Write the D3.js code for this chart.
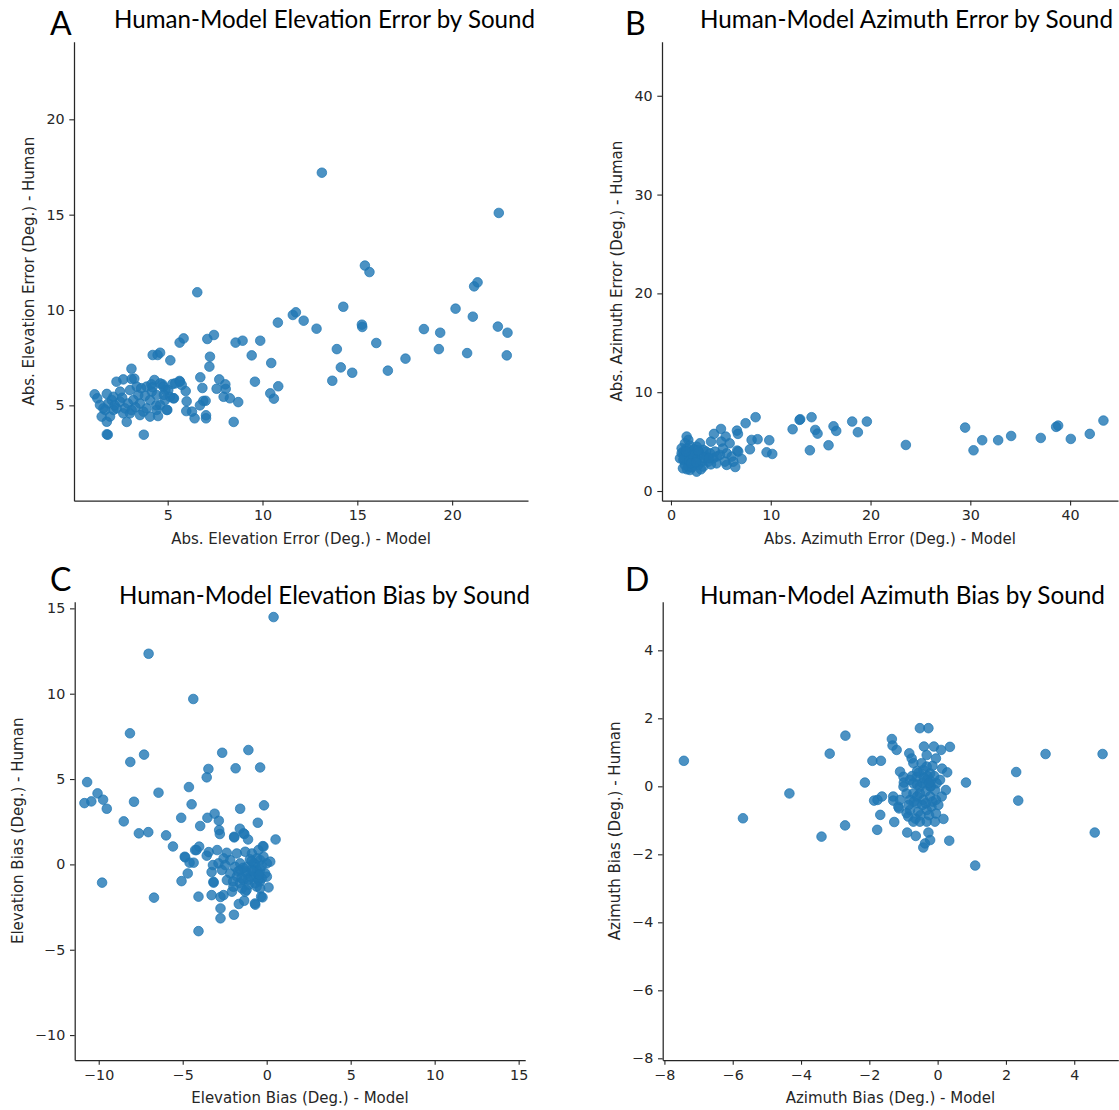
<!DOCTYPE html>
<html>
<head>
<meta charset="utf-8">
<script src="https://cdn.jsdelivr.net/npm/d3@7"></script>
<style>
  body { margin: 0; background: #fff; }
</style>
</head>
<body>
<div id="chart"></div>
<script>
// one point per sound: model value on x, human value on y
var elevErrModel = [13.13,22.46,15.4,15.64,21.16,21.34,6.56,14.26,20.18,11.6,
  11.76,21.09,10.81,12.17,12.85,15.24,15.26,18.51,19.37,22.41,
  22.92,9.88,8.58,8.95,7.09,7.44,5.63,5.84,16.0,13.92,
  19.3,20.79,22.88,17.54,9.43,4.21,4.47,4.6,7.23,5.14,
  7.2,10.46,14.13,14.73,16.61,13.68,9.6,10.83,10.41,10.6,
  3.09,6.72,7.72,8.04,7.58,8.06,6.83,7.95,8.28,8.72,
  6.88,7.0,6.7,7.02,7.02,6.42,8.48,6.28,5.98,6.0,
  5.95,5.33,4.98,4.49,3.74,1.84,1.79,2.84,1.15,1.29,
  2.3,2.49,2.66,3.24,3.1,4.3,4.14,5.62,5.74,5.25,
  5.4,4.72,4.88,1.79,1.87,1.61,1.52,1.79,1.96,2.14,
  2.05,2.49,2.75,3.01,3.19,3.45,3.54,3.72,3.89,4.07,
  4.6,4.77,5.03,5.12,4.86,4.6,4.42,4.95,5.3,5.65,
  3.01,3.37,3.89,4.16,4.42,2.31,2.66,3.54,4.07,2.14,
  1.43,1.7,2.6,3.3,3.8,4.4,2.9,3.6,4.2,2.2,
  4.8,3.1];
var elevErrHuman = [17.2,15.09,12.33,11.99,11.24,11.45,10.93,10.17,10.07,9.74,
  9.88,9.65,9.34,9.44,9.02,9.23,9.11,9.0,8.81,9.13,
  8.81,8.39,8.29,8.39,8.48,8.69,8.29,8.51,8.27,7.95,
  7.95,7.74,7.62,7.45,7.62,7.64,7.64,7.76,7.55,7.36,
  7.03,7.22,6.99,6.71,6.82,6.29,6.24,6.0,5.63,5.35,
  6.92,6.47,6.36,6.1,5.87,5.86,5.91,5.45,5.37,5.17,
  5.23,5.24,5.0,4.48,4.32,4.32,4.13,4.67,4.7,5.21,
  5.75,5.37,4.76,4.44,3.46,3.46,3.48,4.13,5.58,5.37,
  6.24,5.72,6.36,6.4,6.38,6.33,6.1,6.28,6.07,6.12,
  6.15,6.1,5.8,5.6,5.1,4.84,4.41,4.14,4.41,4.76,
  5.28,5.19,4.84,4.58,5.28,5.54,5.1,4.67,4.84,5.28,
  6.15,5.98,5.8,5.45,5.28,5.02,4.76,4.76,5.37,6.24,
  5.8,5.98,5.98,5.72,5.54,4.84,4.58,4.49,4.41,5.45,
  5.02,4.76,5.4,4.9,5.5,5.0,5.1,5.9,5.95,5.0,
  5.55,4.75];

var azimErrModel = [8.48,7.48,6.61,6.71,8.08,8.68,9.85,9.58,10.15,7.91,
  7.08,6.44,6.64,5.01,4.31,5.48,4.01,5.04,5.88,12.19,
  12.89,12.95,14.09,14.46,14.69,13.92,15.79,16.29,16.56,18.16,
  18.73,19.63,23.54,29.48,30.32,31.19,32.79,34.09,37.06,38.6,
  38.8,40.07,41.97,43.34,1.57,1.74,1.40,1.57,1.07,1.24,
  1.40,1.90,2.57,2.74,2.24,2.07,2.57,2.90,3.24,3.57,
  3.91,4.24,4.57,4.91,5.58,6.08,6.74,6.24,5.41,3.07,
  1.90,2.40,0.90,1.24,1.74,2.24,3.24,1.07,2.90,3.74,
  4.41,5.58,1.6,2.1,3.0,1.3,2.6,3.5,1.9,2.3,
  4.0,5.2,1.3,1.8,2.2,2.8,3.3,1.5,2.0,2.5,
  3.8,4.6,1.2,2.7];
var azimErrHuman = [7.47,6.86,6.11,5.78,5.17,5.24,5.14,3.92,3.75,4.22,
  3.24,2.43,4.09,6.28,5.78,5.51,5.0,5.0,4.83,6.25,
  7.2,7.26,7.47,6.18,5.81,4.12,4.63,6.55,6.08,7.03,
  5.95,7.03,4.66,6.42,4.12,5.14,5.14,5.57,5.37,6.49,
  6.62,5.27,5.78,7.13,5.51,5.17,4.83,4.32,3.82,3.14,
  2.64,2.13,1.96,2.64,3.31,3.99,4.49,4.83,4.16,3.48,
  3.82,3.31,2.80,3.65,3.82,3.48,3.99,2.97,2.97,2.97,
  3.48,3.82,3.31,3.99,2.47,2.64,2.47,4.32,3.65,2.97,
  3.99,2.64,2.2,2.4,2.2,3.6,3.2,4.0,4.6,4.2,
  2.7,4.3,3.3,3.0,3.6,3.9,3.4,4.0,2.8,2.9,
  3.3,3.5,2.3,4.1];

var elevBiasModel = [0.41,-7.03,-4.37,-8.14,-8.12,-7.30,-2.65,-1.09,-1.85,-0.39,
  -3.47,-3.57,-4.63,-10.69,-10.07,-10.85,-10.44,-9.74,-9.52,-7.9,
  -6.44,-4.47,-1.58,-0.16,-0.53,-8.51,-5.09,-3.53,-3.10,-2.85,
  -3.96,-2.83,-2.79,-7.61,-7.05,-5.99,-5.58,-1.6,-1.33,-1.93,
  -1.11,0.53,-0.23,-4.02,-4.18,-3.45,-2.95,-2.38,-4.88,-4.59,
  -4.35,-3.57,-4.70,-5.07,-9.8,-6.71,-4.06,-3.28,-2.75,-2.75,
  -2.75,-1.95,-4.06,-3.28,-3.16,-3.2,-0.68,-1.66,-1.34,-0.33,
  0.11,-2.57,-2.07,-1.58,-1.18,-0.78,-0.39,-0.19,0.01,-0.59,
  -0.98,-1.38,-1.78,-2.17,-2.37,-1.98,-1.48,-1.08,-0.69,-0.29,
  -0.09,-0.88,-1.28,-1.78,-2.17,-2.57,-2.87,-2.67,-3.17,-0.49,
  -0.19,0.21,-1.38,-1.94,-4.26,-4.85,-1.18,-1.58,-0.39,-0.78,
  -1.88,-1.28,-0.39,0.01,-2.47,-0.59,-0.25,-0.7,-0.9,-0.5,
  -1.3,-0.7,-1.0,-0.4,-1.6,-1.1,-0.8,-0.5,-1.4,-1.7,
  -0.6,-1.2,-0.3,-0.9,-1.5,-0.45,-2.0];
var elevBiasHuman = [14.49,12.34,9.69,7.68,6.0,6.43,6.54,6.70,5.63,5.68,
  5.59,5.10,4.53,4.82,4.16,3.59,3.69,3.79,3.26,3.67,
  4.2,3.52,3.26,3.46,2.44,2.52,2.73,2.73,2.97,2.56,
  2.25,2.01,1.78,1.82,1.89,1.70,1.05,2.09,1.78,1.58,
  1.46,1.46,1.07,1.04,0.84,0.72,0.84,0.68,0.45,0.1,
  0.1,0.51,-0.53,-0.98,-1.07,-1.95,-1.89,-1.80,-1.91,-2.58,
  -3.16,-2.95,-3.91,-0.45,-1.07,-0.04,-2.36,-2.32,-2.13,-1.89,
  -1.35,-1.8,-1.6,-0.33,-0.14,0.06,0.25,0.45,0.06,-0.33,
  -0.72,-0.92,-0.72,-0.53,-0.92,-1.31,-1.41,-1.21,-1.11,-0.82,
  -0.53,0.64,0.74,0.64,0.25,0.35,0.06,-0.33,-1.02,0.84,
  1.04,0.16,1.82,1.62,0.84,0.41,-0.53,0.06,-0.33,-0.72,
  -0.14,-1.6,-1.41,-0.72,-0.04,0.35,-1.93,-2.29,-0.3,-0.6,
  -0.4,0.0,0.3,-1.0,-1.1,-0.9,-0.4,-0.9,-0.2,-0.4,
  -1.3,-1.5,-0.1,0.2,-0.8,-0.6,-1.0];

var azimBiasModel = [-7.43,-5.70,-4.34,-3.40,-3.16,-2.70,-2.71,-2.13,-1.91,-1.66,
  -1.34,-1.32,-1.2,-1.86,-1.76,-1.63,-1.68,-1.77,-1.27,-1.30,
  -1.30,-1.13,-0.52,-0.27,-0.40,-0.11,0.36,0.1,0.13,0.28,
  0.83,0.24,0.17,0.34,1.10,2.30,2.36,3.16,4.83,4.60,
  -0.42,-0.37,-0.22,-0.27,-0.64,-0.89,-0.83,-0.76,-0.71,-1.10,
  -1.0,-0.99,-1.15,-0.86,-0.71,-0.52,-0.32,-0.08,-0.32,-0.05,
  -1.0,-0.81,-0.61,-0.42,-0.22,-0.32,-0.52,-0.71,-0.81,-0.61,
  -0.42,-0.22,-0.08,-0.03,-0.18,-0.32,-0.57,-0.47,-0.32,0.07,
  0.12,0.02,-0.91,-0.81,-0.91,-1.10,-0.52,-0.22,-0.71,-0.45,
  -0.2,-0.6,-0.35,-0.15,-0.55,-0.25,-0.65,-0.05,-0.75,-0.6,
  -0.45,-0.3,-0.15,-0.7,-0.5,-0.35,-0.2,-0.05,-0.6,-0.4,
  -0.25,-0.85,-0.1];
var azimBiasHuman = [0.75,-0.94,-0.21,-1.48,0.96,1.49,-1.15,0.11,0.75,0.75,
  1.39,1.2,1.07,-0.42,-0.40,-0.30,-0.84,-1.28,-1.05,-0.30,
  -0.42,-0.65,1.71,1.71,1.17,1.17,1.16,1.07,0.52,0.41,
  0.11,-0.11,-0.96,-1.6,-2.33,0.42,-0.42,0.95,0.95,-1.36,
  -1.8,-1.68,-1.58,-1.36,-1.46,-1.36,0.97,0.82,0.68,0.43,
  0.28,0.11,-0.6,-0.89,-1.04,-1.04,-1.04,-1.04,0.92,0.82,
  -0.01,0.19,0.28,0.48,0.38,0.19,-0.01,-0.21,-0.40,-0.50,
  -0.40,-0.30,-0.11,0.09,-0.60,-0.70,-0.75,0.68,0.58,0.19,
  -0.30,-0.55,-0.21,-0.70,-0.79,-0.40,-0.21,-0.01,0.09,0.1,
  0.15,-0.3,-0.15,-0.45,0.4,-0.85,-0.95,-0.8,0.3,0.45,
  -0.55,0.3,0.6,-0.45,-0.85,-0.5,0.0,-0.4,0.05,0.25,
  0.1,-0.55,0.3];

// tick values
var elevErrTicks = [5, 10, 15, 20];
var azimErrTicks = [0, 10, 20, 30, 40];
var elevBiasTicks = [-10, -5, 0, 5, 10, 15];
var azimBiasTicks = [-8, -6, -4, -2, 0, 2, 4];

var panels = [
  { letter: "A", title: "Human-Model Elevation Error by Sound",
    xlabel: "Abs. Elevation Error (Deg.) - Model", ylabel: "Abs. Elevation Error (Deg.) - Human",
    xs: elevErrModel, ys: elevErrHuman, xTicks: elevErrTicks, yTicks: elevErrTicks,
    xDomain: [0.06, 24.0], yDomain: [0, 24.07],
    left: 74, top: 41.7, width: 454, height: 459,
    titleX: [114, 535], titleY: 28, letterX: 50, letterY: 35 },
  { letter: "B", title: "Human-Model Azimuth Error by Sound",
    xlabel: "Abs. Azimuth Error (Deg.) - Model", ylabel: "Abs. Azimuth Error (Deg.) - Human",
    xs: azimErrModel, ys: azimErrHuman, xTicks: azimErrTicks, yTicks: azimErrTicks,
    xDomain: [-0.9, 44.8], yDomain: [-0.98, 45.47],
    left: 662, top: 41.7, width: 456, height: 459,
    titleX: [700, 1113], titleY: 28, letterX: 625, letterY: 35 },
  { letter: "C", title: "Human-Model Elevation Bias by Sound",
    xlabel: "Elevation Bias (Deg.) - Model", ylabel: "Elevation Bias (Deg.) - Human",
    xs: elevBiasModel, ys: elevBiasHuman, xTicks: elevBiasTicks, yTicks: elevBiasTicks,
    xDomain: [-11.43, 15.39], yDomain: [-11.46, 15.39],
    left: 74.7, top: 601.7, width: 450.5, height: 458.3,
    titleX: [119, 530], titleY: 604, letterX: 50, letterY: 591 },
  { letter: "D", title: "Human-Model Azimuth Bias by Sound",
    xlabel: "Azimuth Bias (Deg.) - Model", ylabel: "Azimuth Bias (Deg.) - Human",
    xs: azimBiasModel, ys: azimBiasHuman, xTicks: azimBiasTicks, yTicks: azimBiasTicks,
    xDomain: [-8.05, 5.29], yDomain: [-8.05, 5.43],
    left: 662.7, top: 601.7, width: 455.6, height: 458.3,
    titleX: [700, 1105], titleY: 604, letterX: 625, letterY: 591 }
];

var ink = "#262626";
var dot = "#1f77b4";
var tickFont = "14.3px";
var labelFont = "15px";

var svg = d3.select("#chart").append("svg")
  .attr("width", 1119)
  .attr("height", 1110)
  .style("background", "#fff");

function fmt(d) {
  return d < 0 ? "\u2212" + Math.abs(d) : String(d);
}

function styleAxis(sel) {
  sel.select(".domain").attr("stroke", ink).attr("stroke-width", 1.25);
  sel.selectAll(".tick line").attr("stroke", ink).attr("stroke-width", 1.1);
  sel.selectAll(".tick text")
    .attr("fill", ink)
    .style("font-family", "'DejaVu Sans', sans-serif")
    .style("font-size", tickFont);
}

function drawPanel(p) {
  var g = svg.append("g").attr("transform", "translate(" + p.left + "," + p.top + ")");

  var x = d3.scaleLinear().domain(p.xDomain).range([0, p.width]);
  var y = d3.scaleLinear().domain(p.yDomain).range([p.height, 0]);

  var pts = p.xs.map(function (d, i) { return [d, p.ys[i]]; });

  g.append("g").selectAll("circle")
    .data(pts)
    .enter()
    .append("circle")
    .attr("cx", function (d) { return x(d[0]); })
    .attr("cy", function (d) { return y(d[1]); })
    .attr("r", 4.8)
    .attr("fill", dot)
    .attr("fill-opacity", 0.8)
    .attr("stroke", dot)
    .attr("stroke-opacity", 0.8)
    .attr("stroke-width", 0.9);

  var xg = g.append("g")
    .attr("transform", "translate(0," + p.height + ")")
    .call(d3.axisBottom(x).tickValues(p.xTicks).tickFormat(fmt)
      .tickSize(4.7).tickSizeOuter(0).tickPadding(4.7));
  styleAxis(xg);

  var yg = g.append("g")
    .call(d3.axisLeft(y).tickValues(p.yTicks).tickFormat(fmt)
      .tickSize(4.7).tickSizeOuter(0).tickPadding(4.7));
  styleAxis(yg);

  // axis labels
  g.append("text")
    .attr("x", p.width / 2)
    .attr("y", p.height + 43)
    .attr("text-anchor", "middle")
    .attr("fill", ink)
    .style("font-family", "'DejaVu Sans', sans-serif")
    .style("font-size", labelFont)
    .text(p.xlabel);

  // ylabel sits just left of the widest tick label
  var tickLeft = d3.min(yg.selectAll(".tick text").nodes(), function (n) { return n.getBBox().x; }) - 4.7;
  g.append("text")
    .attr("transform", "translate(" + (tickLeft - 7.5) + "," + (p.height / 2) + ") rotate(-90)")
    .attr("text-anchor", "middle")
    .attr("fill", ink)
    .style("font-family", "'DejaVu Sans', sans-serif")
    .style("font-size", labelFont)
    .text(p.ylabel);

  // title and panel letter
  svg.append("text")
    .attr("x", p.titleX[0])
    .attr("y", p.titleY)
    .attr("textLength", p.titleX[1] - p.titleX[0])
    .attr("lengthAdjust", "spacingAndGlyphs")
    .attr("fill", "#000")
    .style("font-family", "Lato, 'Open Sans', sans-serif")
    .style("font-size", "24.5px")
    .text(p.title);

  svg.append("text")
    .attr("x", p.letterX)
    .attr("y", p.letterY)
    .attr("fill", "#000")
    .style("font-family", "Lato, 'Open Sans', sans-serif")
    .style("font-size", "32px")
    .text(p.letter);
}

panels.forEach(drawPanel);
</script>
</body>
</html>
